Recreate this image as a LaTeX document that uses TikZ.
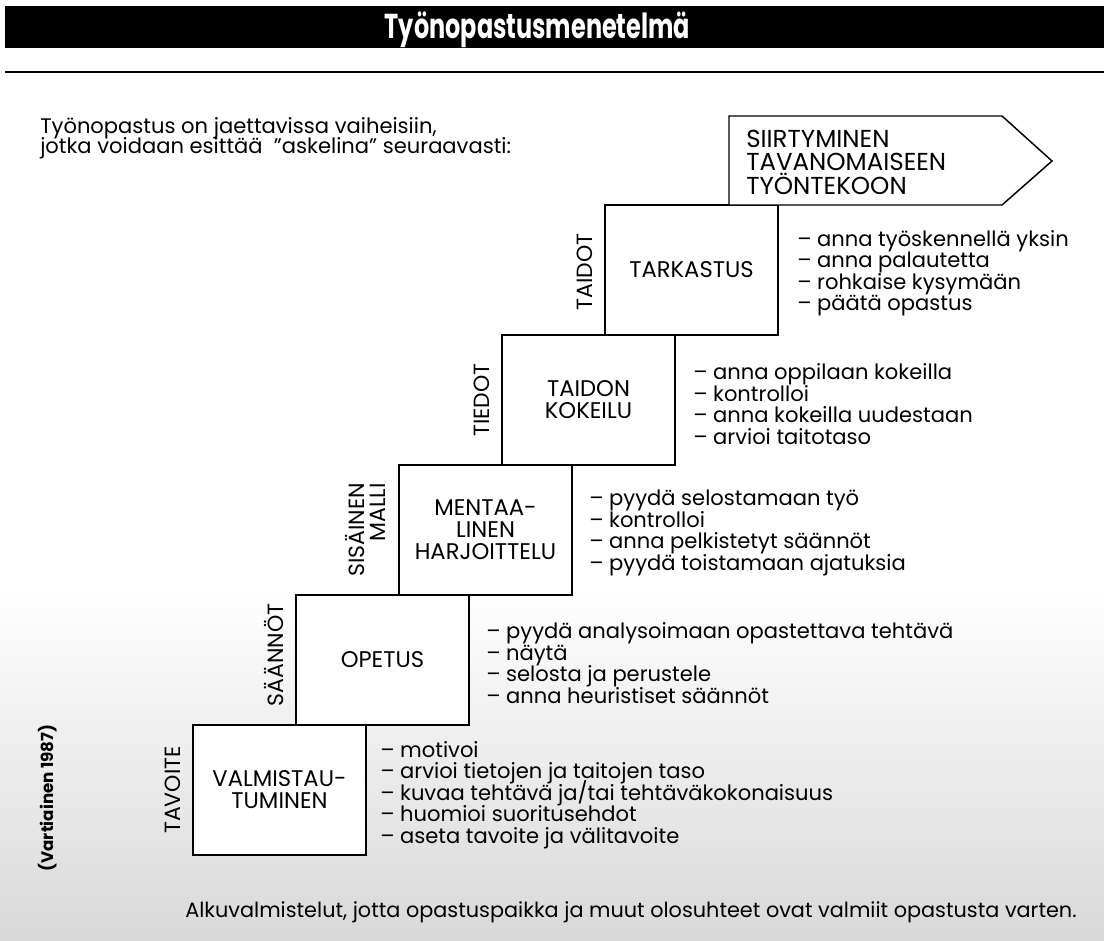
\documentclass[tikz,border=0pt]{standalone}
\usepackage{fontspec}
\usepackage{graphicx}
\setmainfont{Poppins}
\newcommand\blfont{\fontsize{15.8}{16.1}\selectfont\lineskiplimit=-20pt}
\newcommand\ftfont{\fontsize{15.6}{16.1}\selectfont}
\newcommand\itfont{\fontsize{15.8}{14.8}\selectfont\lineskiplimit=-20pt}
\newcommand\bxfont{\fontsize{17}{16.5}\selectfont\lineskiplimit=-20pt}
\newcommand\sdfont{\fontsize{16.5}{15.8}\selectfont\lineskiplimit=-20pt}
\newcommand\arfont{\fontsize{18.4}{17.6}\selectfont\lineskiplimit=-20pt}
\begin{document}
\begin{tikzpicture}[x=0.75pt,y=-0.75pt]
\tikzset{
  stepbox/.style={draw, line width=1.1pt, fill=white, minimum width=129.75pt,
    minimum height=97.5pt, inner sep=0pt, align=center, font=\bxfont},
  sidelabel/.style={rotate=90, anchor=south, inner sep=0pt, font=\sdfont, align=right},
  bullets/.style={anchor=west, align=left, inner sep=0pt, font=\blfont},
  plaintext/.style={anchor=west, align=left, inner sep=0pt, font=\blfont},
}
\useasboundingbox (0,0) rectangle (1104,940);
% halftone-like background
\shade[top color=white, bottom color=gray!30] (0,585) rectangle (1104,940);
% title bar and rule
\fill[black] (5,6) rectangle (1104,48);
\node[anchor=base, text=white, inner sep=0pt] (title) at (537.5,38)
  {\resizebox{229pt}{20pt}{\bfseries Työnopastusmenetelmä}};
\draw[line width=1.5pt] (5,72) -- (1104,72);
% intro
\node[plaintext, font=\itfont] (intro) at (40,138)
  {Työnopastus on jaettavissa vaiheisiin,\\jotka voidaan esittää \ "askelina" seuraavasti:};
% steps
\node[stepbox] (s0) at (279.5,790) {VALMISTAU-\\TUMINEN};
\node[stepbox] (s1) at (382.5,660) {OPETUS};
\node[stepbox] (s2) at (485.5,530) {MENTAA-\\LINEN\\HARJOITTELU};
\node[stepbox] (s3) at (588.5,400) {TAIDON\\KOKEILU};
\node[stepbox] (s4) at (691.5,270) {TARKASTUS};
% final arrow
\draw[line width=1.1pt, fill=white] (729,116) -- (1002,116) -- (1052,161) -- (1002,205) -- (729,205) -- cycle;
\node[anchor=west, align=left, inner sep=0pt, font=\arfont] (goal) at (746,162)
  {SIIRTYMINEN\\TAVANOMAISEEN\\TYÖNTEKOON};
% side labels
\node[sidelabel] (l0) at (181,790) {TAVOITE};
\node[sidelabel] (l1) at (284,655) {SÄÄNNÖT};
\node[sidelabel] (l2) at (386,530) {SISÄINEN\\MALLI};
\node[sidelabel] (l3) at (490,400) {TIEDOT};
\node[sidelabel] (l4) at (593,272) {TAIDOT};
% bullet lists
\node[bullets] (b0) at (380,795)
  {– motivoi\\– arvioi tietojen ja taitojen taso\\– kuvaa tehtävä ja/tai tehtäväkokonaisuus\\– huomioi suoritusehdot\\– aseta tavoite ja välitavoite};
\node[bullets] (b1) at (486,663)
  {– pyydä analysoimaan opastettava tehtävä\\– näytä\\– selosta ja perustele\\– anna heuristiset säännöt};
\node[bullets] (b2) at (589,533)
  {– pyydä selostamaan työ\\– kontrolloi\\– anna pelkistetyt säännöt\\– pyydä toistamaan ajatuksia};
\node[bullets] (b3) at (693,404)
  {– anna oppilaan kokeilla\\– kontrolloi\\– anna kokeilla uudestaan\\– arvioi taitotaso};
\node[bullets] (b4) at (797,273)
  {– anna työskennellä yksin\\– anna palautetta\\– rohkaise kysymään\\– päätä opastus};
% source and footer
\node[rotate=90, inner sep=0pt, font=\fontsize{12.5}{14}\selectfont\bfseries] (src) at (48,798) {(Vartiainen 1987)};
\node[plaintext, font=\ftfont] (foot) at (185,912)
  {Alkuvalmistelut, jotta opastuspaikka ja muut olosuhteet ovat valmiit opastusta varten.};
\end{tikzpicture}
\end{document}
